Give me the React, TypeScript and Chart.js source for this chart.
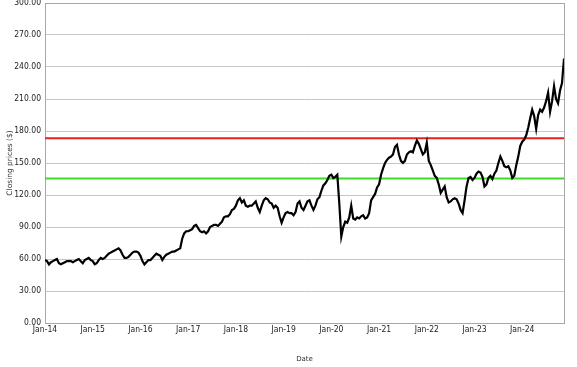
import { useEffect, useRef } from "react";
import { Chart, registerables } from "chart.js";

Chart.register(...registerables);

// Semi-monthly closing prices (1st and 15th of each month)
const p2014 = [59, 58, 55, 57, 58, 59, 60, 56, 55, 56, 57, 58, 58, 58, 57, 58, 59, 60, 58, 56, 59, 60, 61, 59];
const p2015 = [58, 55, 56, 59, 61, 60, 61, 63, 65, 66, 67, 68, 69, 70, 68, 64, 61, 61, 62, 64, 66, 67, 67, 66];
const p2016 = [63, 58, 55, 57, 59, 59, 61, 63, 65, 64, 63, 59, 62, 64, 65, 66, 67, 67, 68, 69, 70, 79, 84, 86];
const p2017 = [86, 87, 88, 91, 92, 89, 86, 85, 86, 84, 86, 90, 91, 92, 92, 91, 93, 95, 99, 100, 100, 102, 106, 107];
const p2018 = [110, 115, 117, 113, 115, 110, 109, 110, 110, 112, 114, 108, 104, 110, 115, 117, 116, 113, 112, 108, 110, 108, 100, 94];
const p2019 = [99, 103, 104, 103, 103, 101, 104, 112, 114, 108, 106, 110, 114, 115, 110, 106, 110, 116, 118, 124, 129, 131, 134, 138];
const p2020 = [139, 136, 137, 139, 112, 81, 90, 95, 94, 99, 110, 98, 97, 99, 98, 100, 101, 98, 99, 103, 115, 118, 121, 127];
const p2021 = [130, 139, 145, 150, 153, 155, 156, 158, 165, 167, 158, 152, 150, 152, 158, 160, 161, 160, 166, 171, 168, 163, 158, 160];
const p2022 = [169, 152, 148, 143, 138, 136, 130, 122, 125, 128, 118, 113, 114, 116, 117, 116, 112, 106, 103, 115, 128, 136, 137, 134];
const p2023 = [136, 140, 142, 141, 137, 128, 130, 136, 138, 135, 140, 143, 150, 156, 152, 147, 146, 147, 143, 136, 138, 148, 156, 166];
const p2024 = [170, 172, 176, 183, 192, 200, 194, 182, 195, 200, 198, 202, 208, 216, 198, 208, 222, 210, 206, 218, 225, 248];

const yearSeries = [p2014, p2015, p2016, p2017, p2018, p2019, p2020, p2021, p2022, p2023, p2024];

// Reference levels
const upperLevel = 173.3;
const lowerLevel = 135.5;

// Axis
const yMin = 0;
const yMax = 300;
const yStep = 30;
const tickYears = ["14", "15", "16", "17", "18", "19", "20", "21", "22", "23", "24"];

const tickFont = "'DejaVu Sans Condensed', 'DejaVu Sans', sans-serif";

export default function App() {
  const canvasRef = useRef<HTMLCanvasElement | null>(null);

  useEffect(() => {
    const canvas = canvasRef.current;
    if (!canvas) return;

    // x value = months since Jan 2014 (half-month steps)
    const prices: { x: number; y: number }[] = [];
    yearSeries.forEach((arr, yi) => {
      arr.forEach((v, i) => {
        prices.push({ x: yi * 12 + i / 2, y: v });
      });
    });
    const xMax = prices[prices.length - 1].x;

    const borderPlugin = {
      id: "plotBorder",
      beforeDatasetsDraw(chart: any) {
        const { ctx, chartArea } = chart;
        ctx.save();
        ctx.strokeStyle = "#a8a8a8";
        ctx.lineWidth = 1;
        ctx.strokeRect(
          Math.round(chartArea.left) + 0.5,
          Math.round(chartArea.top) + 0.5,
          Math.round(chartArea.right - chartArea.left),
          Math.round(chartArea.bottom - chartArea.top)
        );
        ctx.restore();
      },
    };

    const chart = new Chart(canvas, {
      type: "line",
      data: {
        datasets: [
          {
            label: "Close",
            data: prices,
            borderColor: "#000000",
            borderWidth: 2.2,
            pointRadius: 0,
            tension: 0,
          },
          {
            label: "Upper",
            data: [
              { x: 0, y: upperLevel },
              { x: xMax, y: upperLevel },
            ],
            borderColor: "#e8221e",
            borderWidth: 2,
            pointRadius: 0,
          },
          {
            label: "Lower",
            data: [
              { x: 0, y: lowerLevel },
              { x: xMax, y: lowerLevel },
            ],
            borderColor: "#3cdc28",
            borderWidth: 2,
            pointRadius: 0,
          },
        ],
      },
      options: {
        animation: false,
        responsive: true,
        maintainAspectRatio: false,
        layout: { padding: { top: 3, right: 13, left: 0, bottom: 0 } },
        plugins: {
          legend: { display: false },
          tooltip: { enabled: false },
        },
        scales: {
          x: {
            type: "linear",
            min: 0,
            max: xMax,
            grid: { display: false, drawTicks: false },
            border: { display: false },
            afterBuildTicks: (scale: any) => {
              scale.ticks = tickYears.map((_, i) => ({ value: i * 12 }));
            },
            afterFit: (scale: any) => {
              scale.height = 44;
              scale.paddingLeft = 0;
              scale.paddingRight = 0;
            },
            ticks: {
              autoSkip: false,
              maxRotation: 0,
              padding: 2,
              color: "#222222",
              font: { family: tickFont, size: 8.5 },
              callback: (v: any) => {
                const idx = Math.round(Number(v) / 12);
                return "Jan-" + tickYears[idx];
              },
            },
            title: {
              display: true,
              text: "Date",
              color: "#333333",
              font: { family: "DejaVu Sans", size: 7 },
              padding: { top: 0, bottom: 4 },
            },
          },
          y: {
            min: yMin,
            max: yMax,
            grid: { color: "#c6c6c6", lineWidth: 1, drawTicks: false },
            border: { display: false },
            afterFit: (scale: any) => {
              scale.width = 45;
              scale.paddingTop = 0;
              scale.paddingBottom = 0;
            },
            ticks: {
              stepSize: yStep,
              padding: 4,
              color: "#222222",
              font: { family: tickFont, size: 8.5 },
              callback: (v: any) => Number(v).toFixed(2),
            },
            title: {
              display: true,
              text: "Closing prices ($)",
              color: "#333333",
              font: { family: "DejaVu Sans", size: 7.5 },
              padding: { top: 6, bottom: 0 },
            },
          },
        },
      },
      plugins: [borderPlugin],
    });

    return () => chart.destroy();
  }, []);

  return (
    <div style={{ position: "fixed", left: 0, top: 0, width: 577, height: 367, background: "#ffffff" }}>
      <canvas ref={canvasRef} />
    </div>
  );
}
